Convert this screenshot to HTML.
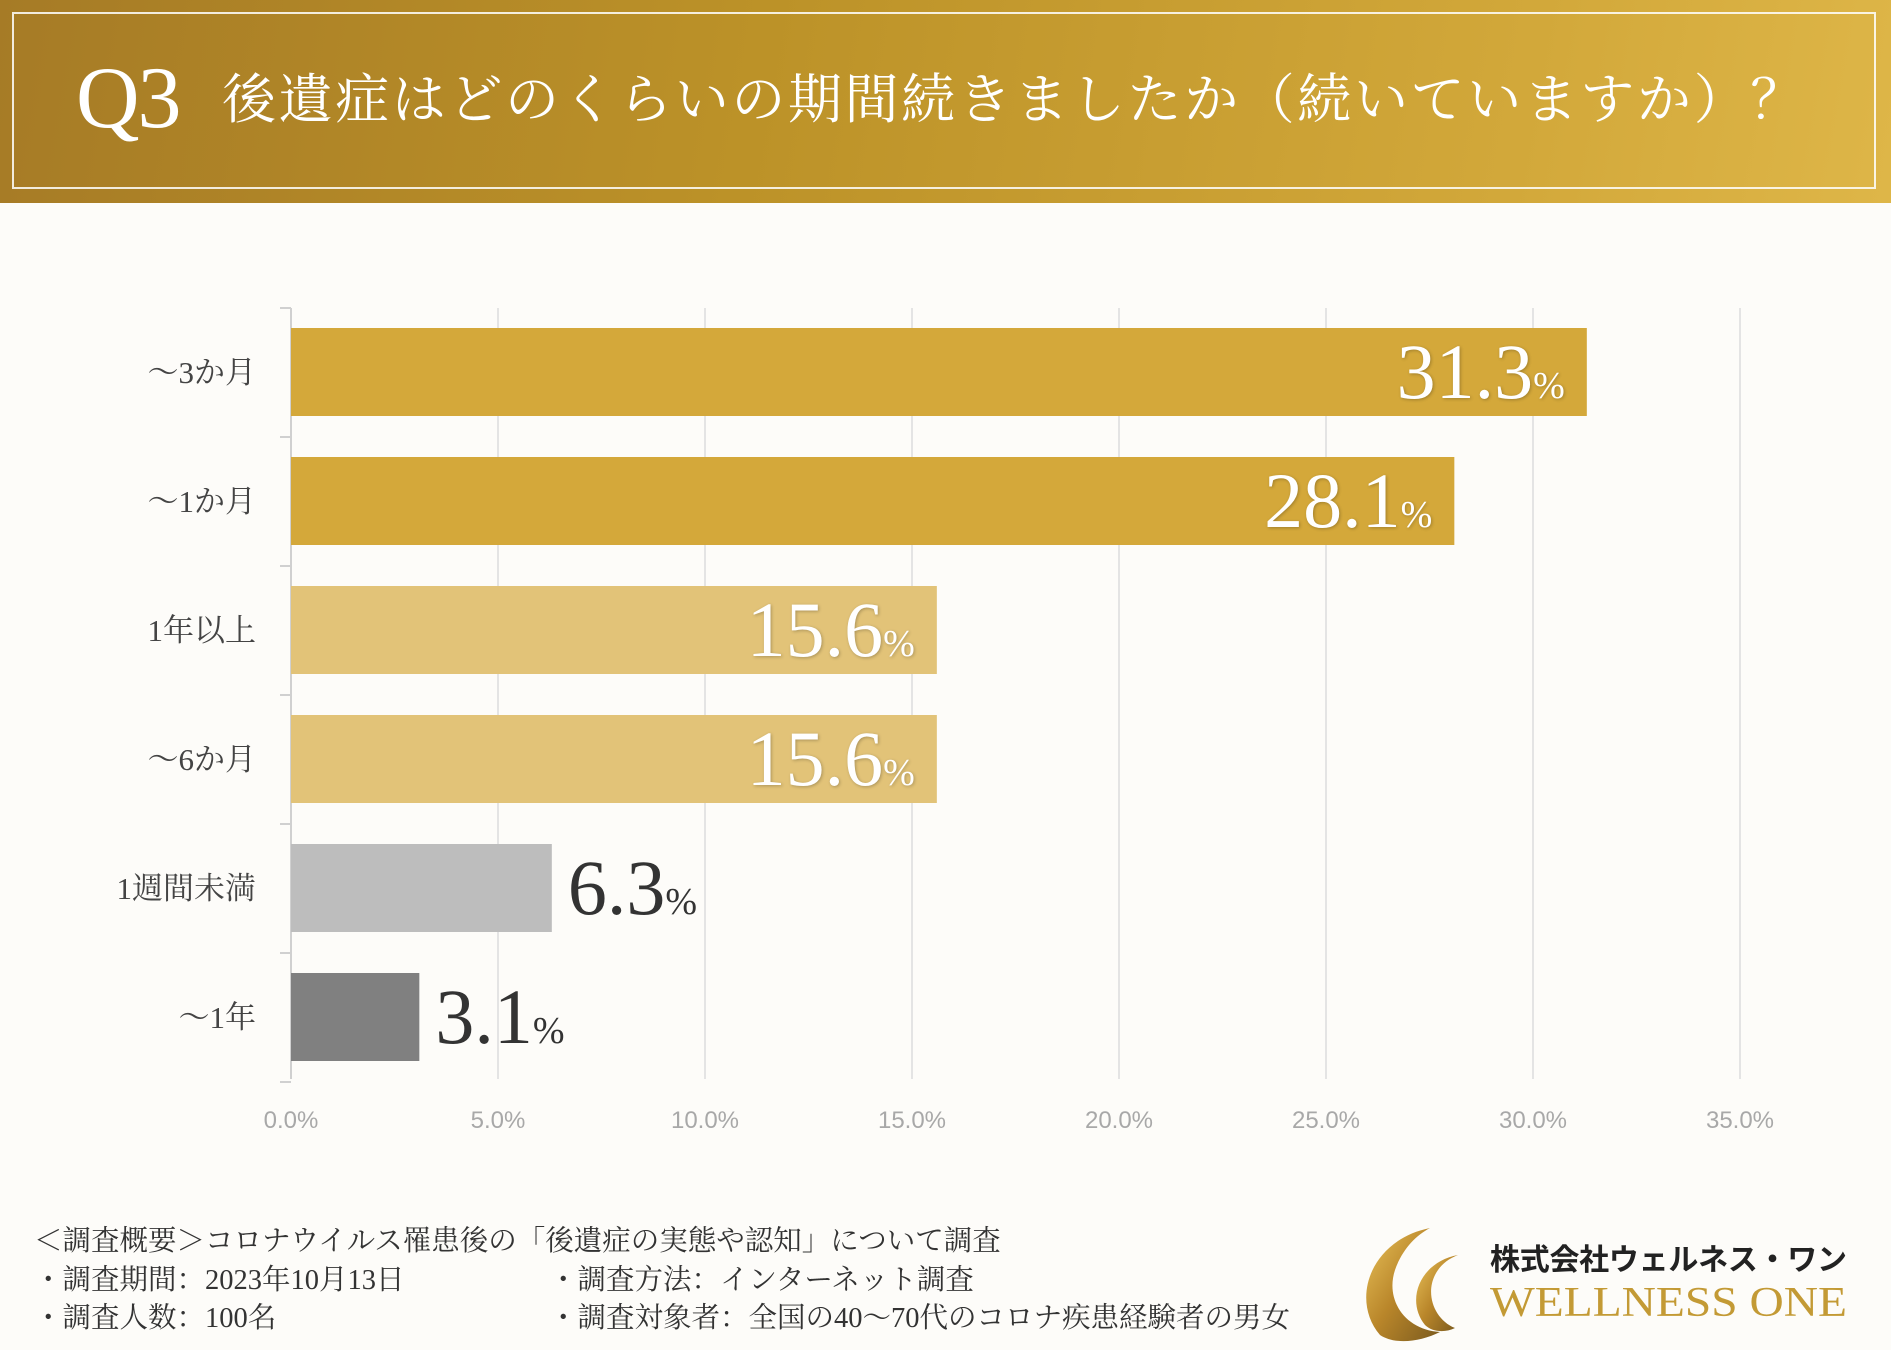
<!DOCTYPE html>
<html><head><meta charset="utf-8">
<style>
html,body{margin:0;padding:0;}
body{width:1891px;height:1350px;background:#fdfcf9;position:relative;overflow:hidden;font-family:"Liberation Serif","Noto Serif CJK SC",serif;}
#header{position:absolute;left:0;top:0;width:1891px;height:203px;background:linear-gradient(100deg,#a67b26 0%,#bc9228 40%,#d2a83a 80%,#deb648 100%);}
#header-border{position:absolute;left:12px;top:12px;width:1864px;height:177px;border:2px solid rgba(255,255,255,0.85);box-sizing:border-box;}
#q3{position:absolute;left:76px;top:44px;font-size:88px;color:#fff;font-family:"Liberation Serif",serif;line-height:110px;letter-spacing:-2px;}
#title{position:absolute;left:222px;top:68px;font-size:54px;color:#fff;letter-spacing:2.6px;line-height:64px;font-family:"Liberation Serif","Noto Serif CJK SC",serif;white-space:nowrap;}
svg{position:absolute;left:0;top:0;}
.foot{position:absolute;font-size:28.5px;color:#333;white-space:nowrap;line-height:34px;font-family:"Liberation Serif","Noto Serif CJK SC",serif;}
</style></head><body>
<div id="header">
 <div id="header-border"></div>
 <div id="q3">Q3</div>
 <div id="title">後遺症はどのくらいの期間続きましたか（続いていますか）？</div>
</div>
<svg id="chart" width="1891" height="1350"></svg>
<div class="foot" style="left:34px;top:1225px">＜調査概要＞コロナウイルス罹患後の「後遺症の実態や認知」について調査</div>
<div class="foot" style="left:34px;top:1264px">・調査期間：2023年10月13日</div>
<div class="foot" style="left:34px;top:1302px">・調査人数：100名</div>
<div class="foot" style="left:549px;top:1264px">・調査方法：インターネット調査</div>
<div class="foot" style="left:549px;top:1302px">・調査対象者：全国の40〜70代のコロナ疾患経験者の男女</div>
<svg width="1891" height="1350">
 <defs><linearGradient id="lg" x1="0" y1="0" x2="1" y2="1"><stop offset="0" stop-color="#e9c25a"/><stop offset="0.5" stop-color="#b9862a"/><stop offset="1" stop-color="#7a5a1e"/></linearGradient></defs>
 <path d="M1430 1228 C1370 1240 1350 1300 1380 1335 C1395 1345 1420 1342 1440 1332 C1405 1330 1385 1300 1395 1270 C1402 1250 1415 1236 1430 1228 Z" fill="url(#lg)"/>
 <path d="M1458 1255 C1420 1262 1405 1300 1425 1325 C1432 1332 1445 1333 1455 1328 C1435 1320 1425 1295 1435 1275 C1440 1265 1448 1259 1458 1255 Z" fill="url(#lg)"/>
 <text x="1490" y="1270" font-size="30" font-weight="bold" fill="#222" font-family="Liberation Sans,Noto Sans CJK JP,sans-serif" textLength="357">株式会社ウェルネス・ワン</text>
 <text x="1490" y="1316" font-size="42" fill="#c39a35" font-family="Liberation Serif,serif" textLength="357" lengthAdjust="spacingAndGlyphs">WELLNESS ONE</text>
</svg>
<script>
const categories=["〜3か月","〜1か月","1年以上","〜6か月","1週間未満","〜1年"];
const values=[31.3,28.1,15.6,15.6,6.3,3.1];
const barColors=["#d4a83a","#d4a83a","#e2c378","#e2c378","#bdbdbd","#808080"];
const labelInside=[true,true,true,true,false,false];
const ticks=[0,5,10,15,20,25,30,35];
const tickLabels=["0.0%","5.0%","10.0%","15.0%","20.0%","25.0%","30.0%","35.0%"];
const NS="http://www.w3.org/2000/svg";
const svg=document.getElementById('chart');
const x0=291,pxPer=41.4,top0=308,bottom0=1079,band=129,barH=88,firstBar=328;
const xs=v=>x0+v*pxPer;
const yb=i=>firstBar+i*band;
function mk(t,a){const e=document.createElementNS(NS,t);for(const k in a)e.setAttribute(k,a[k]);svg.appendChild(e);return e;}
ticks.forEach((t,i)=>{
 const g=mk('line',{x1:xs(t),x2:xs(t),y1:top0,y2:bottom0,stroke:i==0?'#d0d0d0':'#e4e4e4','stroke-width':2});
 
 
 const tl=mk('text',{x:xs(t),y:1128,'font-size':24,'text-anchor':'middle',fill:'#a8a8a8','font-family':'Liberation Sans Narrow,Liberation Sans,sans-serif'});
 tl.textContent=tickLabels[i];
 
 
});
for(let i=0;i<=categories.length;i++){
 const y=top0+i*band;
 const tk=mk('line',{x1:280,x2:291,y1:y,y2:y,stroke:'#d0d0d0','stroke-width':2});
 
 
}
categories.forEach((c,i)=>{
 const y=yb(i);
 const r=mk('rect',{x:x0,y:y,width:xs(values[i])-x0,height:barH,fill:barColors[i]});
 
 
 const cl=mk('text',{x:256,y:y+barH/2+11,'font-size':31,'text-anchor':'end',fill:'#444'});
 cl.textContent=c;
 
 
 const ins=labelInside[i];
 const vt=mk('text',{x:ins?xs(values[i])-22:xs(values[i])+16,y:y+70,'font-size':78,'text-anchor':ins?'end':'start',fill:ins?'#fff':'#333','font-family':'Liberation Serif,serif'});
 if(ins)vt.setAttribute('style','text-shadow:1px 1px 3px rgba(0,0,0,0.25)');
 const n=document.createElementNS(NS,'tspan');n.textContent=values[i].toFixed(1);vt.appendChild(n);
 const p=document.createElementNS(NS,'tspan');p.setAttribute('font-size','38');p.textContent='%';vt.appendChild(p);
 
 
});
</script>
</body></html>
